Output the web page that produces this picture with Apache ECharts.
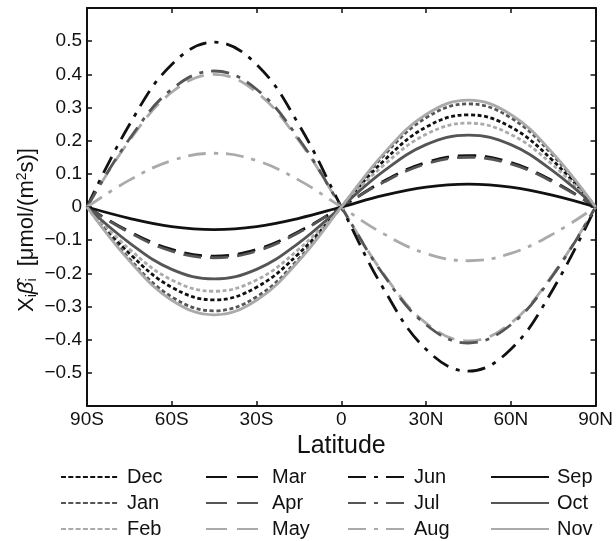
<!DOCTYPE html>
<html><head><meta charset="utf-8">
<script src="https://cdn.jsdelivr.net/npm/echarts@6/dist/echarts.min.js"></script>
<style>html,body{margin:0;padding:0;background:#fff}#c{width:616px;height:541px}</style>
</head><body><div id="c"></div>
<script>
const latitudes = [-90,-75,-60,-45,-30,-15,0,15,30,45,60,75,90];
const xTickLabels = {'-90':'90S','-60':'60S','-30':'30S','0':'0','30':'30N','60':'60N','90':'90N'};
const Dec = [0,-0.14,-0.242,-0.28,-0.242,-0.14,0,0.139,0.241,0.278,0.241,0.139,0];
const Jan = [0,-0.156,-0.271,-0.313,-0.271,-0.156,0,0.155,0.269,0.311,0.269,0.155,0];
const Feb = [0,-0.127,-0.22,-0.254,-0.22,-0.127,0,0.126,0.219,0.253,0.219,0.126,0];
const Mar = [0,-0.074,-0.128,-0.148,-0.128,-0.074,0,0.078,0.134,0.155,0.134,0.078,0];
const Apr = [0,-0.077,-0.133,-0.153,-0.133,-0.077,0,0.075,0.13,0.15,0.13,0.075,0];
const May = [0,0.2,0.346,0.4,0.346,0.2,0,-0.202,-0.35,-0.404,-0.35,-0.202,0];
const Jun = [0,0.248,0.43,0.497,0.43,0.248,0,-0.247,-0.429,-0.495,-0.429,-0.247,0];
const Jul = [0,0.205,0.355,0.41,0.355,0.205,0,-0.205,-0.355,-0.41,-0.355,-0.205,0];
const Aug = [0,0.081,0.14,0.162,0.14,0.081,0,-0.081,-0.14,-0.162,-0.14,-0.081,0];
const Sep = [0,-0.034,-0.059,-0.068,-0.059,-0.034,0,0.035,0.06,0.069,0.06,0.035,0];
const Oct = [0,-0.108,-0.188,-0.217,-0.188,-0.108,0,0.108,0.188,0.217,0.188,0.108,0];
const Nov = [0,-0.162,-0.281,-0.325,-0.281,-0.162,0,0.161,0.279,0.322,0.279,0.161,0];

const BLACK='#111111', DARK='#555555', LIGHT='#aaaaaa';
const DOT=[4,2.6], DASH=[18,9], DASHDOT=[18,8,4,8];
const spec = [
 ['Dec',Dec,BLACK,DOT],['Jan',Jan,DARK,DOT],['Feb',Feb,LIGHT,DOT],
 ['Mar',Mar,BLACK,DASH],['Apr',Apr,DARK,DASH],['May',May,LIGHT,DASH],
 ['Jun',Jun,BLACK,DASHDOT],['Jul',Jul,DARK,DASHDOT],['Aug',Aug,LIGHT,DASHDOT],
 ['Sep',Sep,BLACK,'solid'],['Oct',Oct,DARK,'solid'],['Nov',Nov,LIGHT,'solid']
];
const series = spec.map(([n,d,c,t])=>({
  name:n, type:'line', data: latitudes.map((x,i)=>[x,d[i]]),
  smooth:0.4, symbol:'none', showSymbol:false,
  lineStyle:{color:c,width:2.8,type:t}, itemStyle:{color:c},
  xAxisIndex:0, yAxisIndex:0, z:2
}));
const font='Liberation Sans, Arial, sans-serif';
const legCols=[60,205,347,490];
const legDash=[[5,2.3],[21,10],[18,8,4,8],'solid'];
const legends = legCols.map((l,ci)=>({
  left:l, top:467, width:130, height:74, padding:0, orient:'vertical',
  itemWidth:58, itemHeight:14, itemGap:6,
  data: spec.slice(ci*3,ci*3+3).map(s=>s[0]),
  itemStyle:{opacity:0},
  lineStyle:{type:legDash[ci]},
  textStyle:{fontFamily:font,fontSize:20,lineHeight:20,color:'#111',padding:[0,0,0,3]}
}));
const chart = echarts.init(document.getElementById('c'));
const yfmt = v=>{ if(Math.abs(v)>0.55) return ''; if(Math.abs(v)<1e-9) return '0'; const s=Math.abs(v).toFixed(1); return v<0?'\u2212'+s:s; };
const tick = {inside:true,length:5,lineStyle:{color:'#111',width:1.5}};
const aline = {onZero:false,lineStyle:{color:'#111',width:2}};
chart.setOption({
  animation:false,
  grid:{left:87,right:3,top:8,bottom:135},
  legend:legends,
  graphic:[{
    type:'text', x:27, y:230, rotation:Math.PI/2,
    style:{
      text:'{a|X}{s|i}{b|β\u0302}{s|i}{a|  [μmol/(m}{p|2}{a|s)]}',
      align:'center', verticalAlign:'middle',
      rich:{a:{fontFamily:font,fontSize:22,fill:'#111'},
            b:{fontFamily:font,fontSize:22,fill:'#111',fontStyle:'italic'},
            s:{fontFamily:font,fontSize:14,fill:'#111',padding:[10,0,0,0]},
            p:{fontFamily:font,fontSize:14,fill:'#111',padding:[0,0,10,0]}}
    }
  }],
  xAxis:[{
    type:'value',min:-90,max:90,interval:30,
    name:'Latitude',nameLocation:'middle',nameGap:25,
    nameTextStyle:{fontFamily:font,fontSize:25,color:'#111'},
    axisLine:aline, axisTick:tick, splitLine:{show:false},
    axisLabel:{fontFamily:font,fontSize:19,color:'#111',margin:4,formatter:v=>xTickLabels[String(v)]}
  },{
    type:'value',min:-90,max:90,interval:30,position:'top',
    axisLine:aline, axisTick:tick, axisLabel:{show:false},splitLine:{show:false}
  }],
  yAxis:[{
    type:'value',min:-0.6,max:0.6,interval:0.1,
    axisLine:aline, axisTick:tick, splitLine:{show:false},
    axisLabel:{fontFamily:font,fontSize:19,color:'#111',margin:5,formatter:yfmt}
  },{
    type:'value',min:-0.6,max:0.6,interval:0.1,position:'right',
    axisLine:aline, axisTick:tick, axisLabel:{show:false},splitLine:{show:false}
  }],
  series:series
});
</script></body></html>
